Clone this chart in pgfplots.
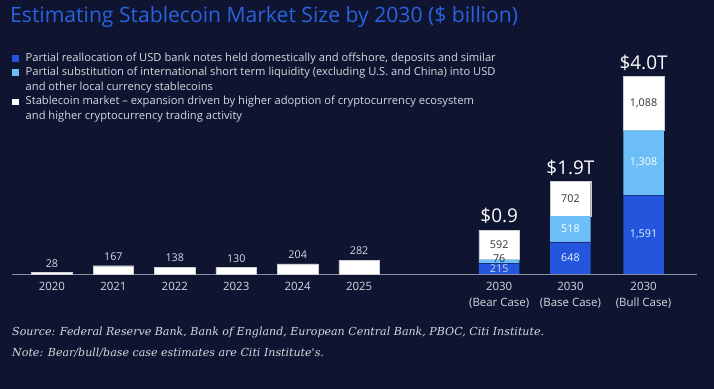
\documentclass[border=0pt]{standalone}
\usepackage{pgfplots}
\pgfplotsset{compat=1.18}
\usepackage{fontspec}
\setmainfont{Open Sans}
\newfontfamily\serifit{DejaVu Serif}
\definecolor{bg}{HTML}{0F1530}
\definecolor{dblue}{HTML}{2356DC}
\definecolor{lblue}{HTML}{6CBEF7}
\definecolor{ttl}{HTML}{2A62E0}
\definecolor{txt}{HTML}{D6D8E0}
\definecolor{axc}{HTML}{8A8FA0}
\definecolor{dtxt}{HTML}{333333}
\begin{document}
\begin{tikzpicture}
\fill[bg] (0bp,0bp) rectangle (714bp,389bp);
\useasboundingbox (0bp,0bp) rectangle (714bp,389bp);
% title
\node[anchor=west,text=ttl,font=\fontsize{21.2}{24}\selectfont,inner sep=0] at (10bp,372bp) {Estimating Stablecoin Market Size by 2030 (\$ billion)};
% legend
\fill[dblue] (12bp,327bp) rectangle (18.5bp,333.5bp);
\fill[lblue] (12bp,313bp) rectangle (18.5bp,319.5bp);
\fill[white] (12bp,283.5bp) rectangle (18.5bp,290bp);
\begin{scope}[every node/.style={anchor=west,text=txt,font=\fontsize{11.2}{13}\selectfont,inner sep=0}]
\node at (25.5bp,330bp) {Partial reallocation of USD bank notes held domestically and offshore, deposits and similar};
\node at (25.5bp,316bp) {Partial substitution of international short term liquidity (excluding U.S. and China) into USD};
\node at (25.5bp,301bp) {and other local currency stablecoins};
\node at (25.5bp,287bp) {Stablecoin market -- expansion driven by higher adoption of cryptocurrency ecosystem};
\node at (25.5bp,272bp) {and higher cryptocurrency trading activity};
\end{scope}
% footnotes
\node[anchor=west,text=txt,font=\serifit\itshape\fontsize{11.1}{13}\selectfont,inner sep=0] at (12bp,56bp) {Source: Federal Reserve Bank, Bank of England, European Central Bank, PBOC, Citi Institute.};
\node[anchor=west,text=txt,font=\serifit\itshape\fontsize{11.1}{13}\selectfont,inner sep=0] at (12bp,36bp) {Note: Bear/bull/base case estimates are Citi Institute's.};
\begin{axis}[
  at={(12bp,115bp)}, anchor=south west, scale only axis,
  width=685bp, height=198.2bp,
  xmin=-0.65, xmax=10.5, ymin=0, ymax=4000,
  ybar stacked, bar width=40.5bp,
  hide y axis, axis x line*=bottom,
  x axis line style={draw=axc, line width=0.8pt},
  xtick={0,1,2,3,4,5,7.28,8.44,9.63},
  xticklabels={2020,2021,2022,2023,2024,2025,{2030\\(Bear Case)},{2030\\(Base Case)},{2030\\(Bull Case)}},
  xticklabel style={align=center, text=txt, font=\fontsize{11.5}{15.5}\selectfont, anchor=north, yshift=-5bp},
  major tick length=0pt,
  clip=false,
]
\addplot[fill=dblue, draw=none] coordinates {(0,0) (1,0) (2,0) (3,0) (4,0) (5,0) (7.28,215) (8.44,648) (9.63,1591)};
\addplot[fill=lblue, draw=none] coordinates {(0,0) (1,0) (2,0) (3,0) (4,0) (5,0) (7.28,76) (8.44,518) (9.63,1308)};
\addplot[fill=white, draw=axc!45!white, line width=0.4pt] coordinates {(0,28) (1,167) (2,138) (3,130) (4,204) (5,282) (7.28,592) (8.44,702) (9.63,1088)};
% label anchors (values from data)
\coordinate (h0) at (axis cs:0,28);
\coordinate (h1) at (axis cs:1,167);
\coordinate (h2) at (axis cs:2,138);
\coordinate (h3) at (axis cs:3,130);
\coordinate (h4) at (axis cs:4,204);
\coordinate (h5) at (axis cs:5,282);
\coordinate (a1) at (axis cs:7.28,107.5);
\coordinate (a2) at (axis cs:7.28,310);
\coordinate (a3) at (axis cs:7.28,587);
\coordinate (b1) at (axis cs:8.44,324);
\coordinate (b2) at (axis cs:8.44,907);
\coordinate (b3) at (axis cs:8.44,1517);
\coordinate (c1) at (axis cs:9.63,795.5);
\coordinate (c2) at (axis cs:9.63,2245);
\coordinate (c3) at (axis cs:9.63,3443);
\coordinate (at) at (axis cs:7.28,883);
\coordinate (bt) at (axis cs:8.44,1868);
\coordinate (ct) at (axis cs:9.63,3987);
\coordinate (as) at (axis cs:7.28,215);
\coordinate (bs) at (axis cs:8.44,648);
\coordinate (cs) at (axis cs:9.63,1591);
\end{axis}
% separators between blue segments
\draw[bg!55!dblue, line width=0.6pt] ([xshift=-20.25bp]as) -- ([xshift=20.25bp]as);
\draw[bg!55!dblue, line width=0.6pt] ([xshift=-20.25bp]bs) -- ([xshift=20.25bp]bs);
\draw[bg!55!dblue, line width=0.6pt] ([xshift=-20.25bp]cs) -- ([xshift=20.25bp]cs);
% historical labels
\begin{scope}[every node/.style={text=txt,font=\fontsize{10.8}{12}\selectfont,anchor=south,inner sep=0,yshift=5bp}]
\node at (h0) {28};
\node at (h1) {167};
\node at (h2) {138};
\node at (h3) {130};
\node at (h4) {204};
\node at (h5) {282};
\end{scope}
% segment labels
\begin{scope}[every node/.style={font=\fontsize{10.8}{12}\selectfont,inner sep=0}]
\node[text=txt] at (a1) {215};
\node[text=dtxt] at (a2) {76};
\node[text=dtxt] at (a3) {592};
\node[text=white!85!lblue] at (b1) {648};
\node[text=white] at (b2) {518};
\node[text=dtxt] at (b3) {702};
\node[text=white!85!lblue] at (c1) {1,591};
\node[text=white] at (c2) {1,308};
\node[text=dtxt] at (c3) {1,088};
\end{scope}
% totals
\begin{scope}[every node/.style={text=white,font=\fontsize{19}{21}\selectfont,anchor=south,inner sep=0,yshift=6bp}]
\node at (at) {\$0.9};
\node at (bt) {\$1.9T};
\node at (ct) {\$4.0T};
\end{scope}
\end{tikzpicture}
\end{document}
